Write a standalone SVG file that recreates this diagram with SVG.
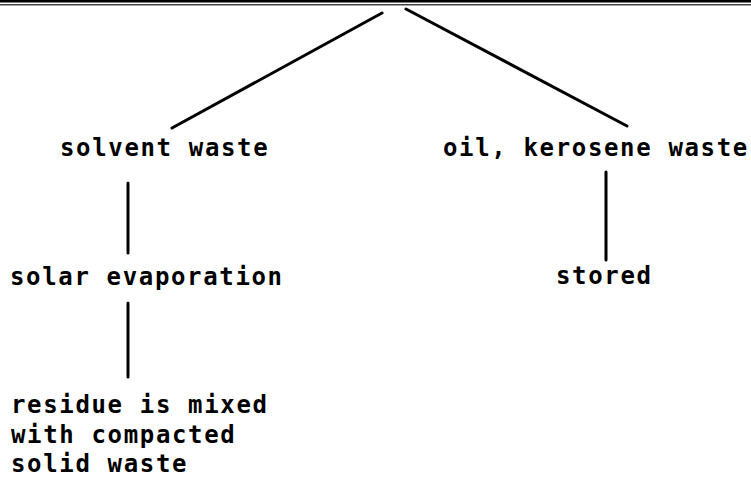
<svg xmlns="http://www.w3.org/2000/svg" width="751" height="479" viewBox="0 0 751 479">
<style>
.t{font-family:"DejaVu Sans Mono","Liberation Mono",monospace;font-size:24px;font-weight:bold;letter-spacing:1.65px;fill:#000}
.c{stroke:#000;stroke-width:3;stroke-linecap:round;fill:none}
</style>
<rect x="0" y="0" width="751" height="479" fill="#fff"/>
<g id="top-rule">
<rect x="0" y="0" width="751" height="2.5" fill="#000"/>
<line x1="0" y1="4.8" x2="751" y2="4.8" stroke="#444" stroke-width="1.5"/>
</g>
<g id="connectors">
<line class="c" x1="382" y1="13" x2="172" y2="128"/>
<line class="c" x1="406" y1="9" x2="627" y2="126"/>
<line class="c" x1="128" y1="183" x2="128" y2="253" stroke-width="3.5"/>
<line class="c" x1="128" y1="303" x2="128" y2="377"/>
<line class="c" x1="606" y1="172" x2="606" y2="260"/>
</g>
<g id="solvent-waste"><text class="t" x="60" y="156">solvent waste</text></g>
<g id="oil-kerosene-waste"><text class="t" x="443" y="156">oil, kerosene waste</text></g>
<g id="solar-evaporation"><text class="t" x="10" y="285">solar evaporation</text></g>
<g id="stored"><text class="t" x="556" y="284">stored</text></g>
<g id="residue">
<text class="t" x="11" y="413">residue is mixed</text>
<text class="t" x="11" y="443">with compacted</text>
<text class="t" x="11" y="472">solid waste</text>
</g>
</svg>
